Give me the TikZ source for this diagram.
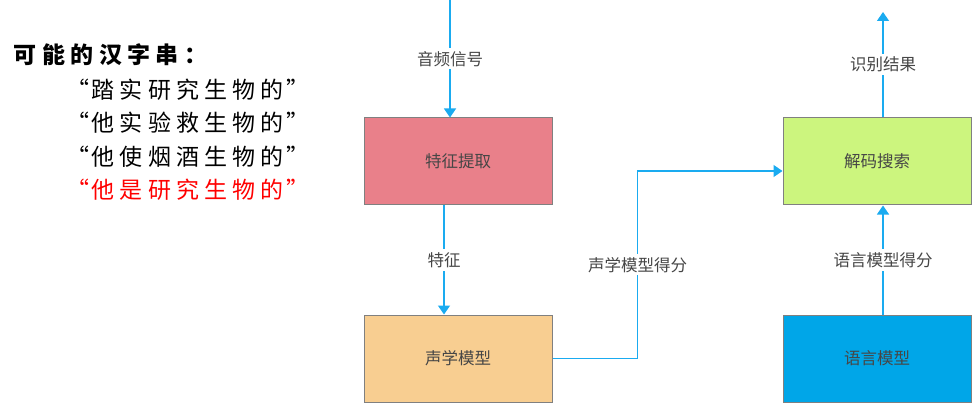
\documentclass[tikz,border=0pt]{standalone}
\usepackage{fontspec}
\usepackage{xcolor}
\usetikzlibrary{arrows.meta,positioning}
\setmainfont{Noto Sans CJK SC}

\definecolor{linkblue}{RGB}{26,171,240}
\definecolor{boxgray}{RGB}{128,128,128}
\definecolor{textgray}{RGB}{70,70,70}
\definecolor{featred}{RGB}{233,128,138}
\definecolor{acouorange}{RGB}{248,206,145}
\definecolor{decgreen}{RGB}{204,245,126}
\definecolor{lmblue}{RGB}{0,166,232}

% spread a string of characters over cells of equal width
\newlength\cellw
\setlength\cellw{28.2pt}
\makeatletter
\newcommand\spaced[1]{\@tfor\ch:=#1\do{\makebox[\cellw]{\ch}}}
\makeatother
\newcommand\quoted[1]{\makebox[12pt][r]{“}\spaced{#1}\makebox[14pt][l]{”}}

\begin{document}
\begin{tikzpicture}[x=1pt, y=1pt,
  stage/.style={draw=boxgray, line width=1pt, minimum width=188pt, minimum height=87pt, text=textgray, font=\fontsize{16.5}{18}\selectfont},
  arr/.style={-{Triangle[width=12pt,length=9pt]}, draw=linkblue, line width=1.4pt},
  lbl/.style={fill=white, text=textgray, inner sep=3pt, font=\fontsize{16.5}{18}\selectfont},
  cand/.style={anchor=west, inner sep=0pt, font=\fontsize{23}{26}\selectfont},
  node distance=109pt and 230pt
]
\useasboundingbox (0,0) rectangle (974,-406);

% candidate strings
\node[cand, font=\fontsize{23}{26}\selectfont\bfseries] (title) at (11,-55) {\setlength\cellw{28.4pt}\spaced{可能的汉字串：}};
\node[cand] (cand1) at (77,-90) {\quoted{踏实研究生物的}};
\node[cand] (cand2) at (77,-123) {\quoted{他实验救生物的}};
\node[cand] (cand3) at (77,-156.5) {\quoted{他使烟酒生物的}};
\node[cand, text=red] (cand4) at (77,-190) {\quoted{他是研究生物的}};

% processing stages
\node[stage, fill=featred] (feat) at (458,-161.5) {特征提取};
\node[stage, fill=acouorange, below=of feat] (acou) {声学模型};
\node[stage, fill=decgreen, right=of feat] (dec) {解码搜索};
\node[stage, fill=lmblue, below=of dec] (lm) {语言模型};

\coordinate (audio) at (450,0);
\coordinate (result) at (883,-12);

\draw[arr] (audio) -- node[lbl] {音频信号} (audio |- feat.north);
\draw[arr] ([xshift=-14pt]feat.south) -- node[lbl] {特征} ([xshift=-14pt]acou.north);
\draw[arr] (acou.east) -- ++(85,0) |- node[lbl, pos=0.25] {声学模型得分} ([yshift=-9.5pt]dec.west);
\draw[arr] ([xshift=6pt]lm.north) -- node[lbl] {语言模型得分} ([xshift=6pt]dec.south);
\draw[arr] (result |- dec.north) -- node[lbl] {识别结果} (result);

\end{tikzpicture}
\end{document}
